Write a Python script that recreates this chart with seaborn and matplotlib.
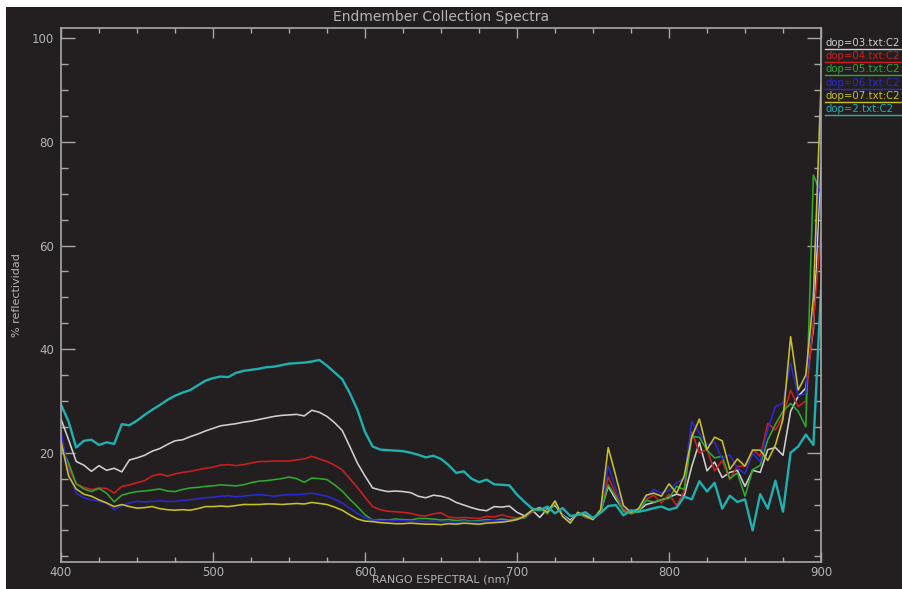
import matplotlib
matplotlib.use("Agg")
import matplotlib.pyplot as plt
from matplotlib.patches import Rectangle
from matplotlib.lines import Line2D
from matplotlib.ticker import MultipleLocator, FixedLocator
import seaborn as sns
import pandas as pd

wavelength = [400, 405, 410, 415, 420, 425, 430, 435, 440, 445,
              450, 455, 460, 465, 470, 475, 480, 485, 490, 495,
              500, 505, 510, 515, 520, 525, 530, 535, 540, 545,
              550, 555, 560, 565, 570, 575, 580, 585, 590, 595,
              600, 605, 610, 615, 620, 625, 630, 635, 640, 645,
              650, 655, 660, 665, 670, 675, 680, 685, 690, 695,
              700, 705, 710, 715, 720, 725, 730, 735, 740, 745,
              750, 755, 760, 765, 770, 775, 780, 785, 790, 795,
              800, 805, 810, 815, 820, 825, 830, 835, 840, 845,
              850, 855, 860, 865, 870, 875, 880, 885, 890, 895,
              900]

dop03 = [26.5, 22.5, 18.3, 17.6, 16.4, 17.5, 16.6, 17.0, 16.3, 18.6,
         19.0, 19.5, 20.3, 20.8, 21.6, 22.3, 22.5, 23.1, 23.6, 24.2,
         24.7, 25.2, 25.4, 25.6, 25.9, 26.1, 26.4, 26.7, 27.0, 27.2,
         27.3, 27.4, 27.1, 28.2, 27.8, 27.0, 25.8, 24.3, 21.2, 18.0,
         15.5, 13.2, 12.8, 12.5, 12.6, 12.5, 12.3, 11.6, 11.3, 11.8,
         11.6, 11.2, 10.4, 9.9, 9.4, 9.0, 8.8, 9.6, 9.5, 9.7,
         8.5, 7.8, 8.9, 7.5, 9.2, 9.8, 8.0, 7.0, 8.2, 7.9,
         7.3, 8.6, 13.5, 11.0, 9.0, 8.3, 8.8, 10.0, 10.4, 10.9,
         11.4, 12.0, 11.6, 17.4, 22.0, 16.5, 18.2, 15.2, 16.2, 16.6,
         13.5, 16.6, 16.2, 20.6, 21.0, 19.5, 28.0, 30.9, 32.5, 44.0,
         76.0]

dop04 = [23.0, 17.0, 14.0, 13.3, 12.9, 13.2, 13.1, 12.2, 13.5, 13.8,
         14.2, 14.6, 15.5, 15.9, 15.5, 15.9, 16.2, 16.4, 16.7, 17.0,
         17.2, 17.6, 17.7, 17.5, 17.7, 18.0, 18.3, 18.3, 18.4, 18.4,
         18.4, 18.6, 18.8, 19.3, 18.8, 18.3, 17.6, 16.7, 15.0, 13.3,
         11.4, 9.6, 9.0, 8.7, 8.6, 8.5, 8.3, 7.9, 7.8, 8.2,
         8.4, 7.6, 7.4, 7.5, 7.4, 7.3, 7.7, 7.6, 8.0, 7.6,
         7.4, 7.7, 8.5, 9.3, 8.8, 10.5, 7.8, 6.6, 8.3, 7.5,
         7.2, 8.7, 15.3, 12.0, 9.0, 8.4, 9.0, 11.0, 11.8, 10.3,
         12.0, 9.8, 12.5, 24.0, 20.0, 20.6, 16.5, 18.5, 14.8, 17.4,
         17.4, 20.6, 19.3, 25.7, 24.4, 27.0, 32.1, 28.9, 30.0, 45.0,
         63.0]

dop05 = [21.2, 18.0, 14.0, 13.0, 12.5, 13.1, 12.2, 10.5, 11.8, 12.2,
         12.5, 12.6, 12.8, 13.0, 12.6, 12.5, 12.9, 13.2, 13.3, 13.5,
         13.6, 13.8, 13.7, 13.6, 13.8, 14.2, 14.5, 14.6, 14.8, 15.0,
         15.3, 15.0, 14.3, 15.1, 15.0, 14.8, 13.8, 12.6, 11.0, 9.6,
         8.0, 7.0, 7.1, 7.0, 7.2, 7.1, 7.0, 7.3, 7.3, 7.2,
         7.0, 7.1, 6.9, 7.0, 6.8, 6.9, 7.1, 6.9, 7.2, 7.0,
         7.2, 7.4, 8.7, 9.3, 8.2, 10.2, 8.0, 6.7, 8.2, 7.6,
         7.1, 8.5, 13.8, 11.5, 8.7, 8.2, 8.7, 10.8, 10.5, 10.9,
         11.2, 13.5, 12.9, 23.1, 23.0, 20.5, 19.0, 19.3, 15.0, 16.1,
         11.6, 16.7, 17.6, 22.5, 25.5, 28.0, 29.5, 28.0, 25.0, 73.6,
         70.0]

dop06 = [24.1, 16.0, 12.2, 11.3, 10.9, 10.6, 10.3, 9.0, 9.8, 10.3,
         10.6, 10.5, 10.6, 10.7, 10.6, 10.6, 10.8, 10.9, 11.1, 11.3,
         11.4, 11.6, 11.7, 11.5, 11.6, 11.8, 11.9, 11.8, 11.6, 11.8,
         11.9, 11.9, 12.0, 12.2, 11.9, 11.6, 11.0, 10.3, 9.3, 8.3,
         7.4, 7.0, 6.9, 6.9, 6.9, 6.9, 6.8, 6.8, 6.7, 6.8,
         6.7, 6.7, 6.6, 6.8, 6.7, 6.7, 6.8, 6.9, 6.8, 6.9,
         7.0, 7.6, 8.8, 9.5, 8.6, 10.6, 7.9, 6.5, 8.4, 7.7,
         7.2, 8.8, 17.5, 13.0, 9.5, 8.6, 9.1, 11.4, 12.9, 12.2,
         12.7, 14.2, 15.0, 26.0, 23.8, 21.5, 22.0, 18.8, 19.6, 17.0,
         16.0, 19.9, 18.3, 24.5, 28.9, 29.6, 37.3, 30.9, 31.5, 50.8,
         80.0]

dop07 = [22.2, 15.5, 13.0, 12.0, 11.6, 10.9, 10.3, 9.6, 10.0, 9.6,
         9.3, 9.4, 9.6, 9.2, 9.0, 8.9, 9.0, 8.9, 9.2, 9.6,
         9.6, 9.7, 9.6, 9.8, 10.0, 10.0, 10.0, 10.1, 10.1, 10.0,
         10.1, 10.2, 10.1, 10.4, 10.2, 10.0, 9.5, 8.9, 8.0, 7.2,
         6.8, 6.7, 6.5, 6.4, 6.3, 6.3, 6.4, 6.3, 6.2, 6.2,
         6.1, 6.3, 6.2, 6.4, 6.3, 6.2, 6.4, 6.5, 6.6, 6.8,
         7.1, 7.7, 8.9, 9.4, 8.5, 10.7, 7.7, 6.4, 8.5, 7.8,
         7.1, 9.0, 21.0, 15.5, 9.8, 8.5, 9.2, 11.8, 12.2, 11.6,
         14.0, 12.2, 15.5, 23.1, 26.5, 20.6, 23.0, 22.3, 16.8, 18.8,
         17.4, 20.5, 20.5, 18.5, 21.5, 26.5, 42.4, 32.1, 35.0, 50.1,
         91.0]

dop2 = [29.3, 26.0, 21.0, 22.3, 22.5, 21.5, 22.0, 21.7, 25.5, 25.3,
        26.2, 27.3, 28.3, 29.2, 30.2, 31.0, 31.6, 32.1, 33.0, 33.9,
        34.4, 34.7, 34.6, 35.4, 35.8, 36.0, 36.2, 36.5, 36.6, 36.9,
        37.2, 37.3, 37.4, 37.6, 37.9, 36.8, 35.5, 34.2, 31.5, 28.3,
        24.0, 21.2, 20.6, 20.5, 20.4, 20.3, 20.0, 19.6, 19.1, 19.4,
        18.8, 17.6, 16.1, 16.4, 15.0, 14.3, 14.8, 13.9, 13.8, 13.7,
        11.9, 10.5, 9.2, 8.9, 9.6, 8.3, 9.3, 7.8, 8.0, 8.5,
        7.4, 8.4, 9.7, 9.9, 7.9, 8.9, 8.6, 8.9, 9.3, 9.6,
        9.0, 9.4, 11.5, 11.0, 14.5, 12.5, 14.2, 9.2, 11.7, 10.5,
        11.0, 5.0, 12.0, 9.2, 14.6, 8.6, 20.0, 21.2, 23.5, 21.5,
        51.4]

labels = ["dop=03.txt:C2", "dop=04.txt:C2", "dop=05.txt:C2",
          "dop=06.txt:C2", "dop=07.txt:C2", "dop=2.txt:C2"]
series = [dop03, dop04, dop05, dop06, dop07, dop2]
colors = ["#cfcfcf", "#cc2020", "#2eaa2e", "#2a2ad2", "#c8c028", "#20b0b0"]

title = "Endmember Collection Spectra"
xlabel = "RANGO ESPECTRAL (nm)"
ylabel = "% reflectividad"
xticks = [400, 500, 600, 700, 800, 900]
yticks = [20, 40, 60, 80, 100]

frames = []
for lab, vals in zip(labels, series):
    frames.append(pd.DataFrame({"wl": wavelength, "refl": vals, "name": lab}))
df = pd.concat(frames, ignore_index=True)

W, H = 902, 589
BG = "#231f20"
TXT = "#b4b4b4"
AX = "#a8a8a8"

fig = plt.figure(figsize=(W / 100, H / 100), dpi=100, facecolor="white")
fig.patches.append(Rectangle((6 / W, 0), 1, 1 - 7 / H, transform=fig.transFigure,
                             facecolor=BG, edgecolor="none", zorder=-10))

ax = fig.add_axes([61 / W, (H - 562) / H, 760 / W, 534 / H])
ax.set_facecolor(BG)

for lab, col in zip(labels, colors):
    sub = df[df["name"] == lab]
    lw = 1.7 if lab == "dop=2.txt:C2" else 1.15
    sns.lineplot(data=sub, x="wl", y="refl", color=col, lw=lw, ax=ax,
                 sort=False, estimator=None, legend=False)

ax.set_xlim(400, 900)
ax.set_ylim(-1.1, 102)
ax.xaxis.set_major_locator(FixedLocator(xticks))
ax.xaxis.set_minor_locator(MultipleLocator(25))
ax.yaxis.set_major_locator(FixedLocator(yticks))
ax.yaxis.set_minor_locator(MultipleLocator(5))
ax.set_xticklabels([str(t) for t in xticks])
ax.set_yticklabels([str(t) for t in yticks])

for sp in ax.spines.values():
    sp.set_color(AX)
    sp.set_linewidth(1.2)
    sp.set_visible(True)

ax.tick_params(axis="x", which="major", direction="in", length=7.2, width=1.0,
               color=AX, labelcolor=TXT, labelsize=8.5, pad=3, top=True, bottom=True)
ax.tick_params(axis="x", which="minor", direction="in", length=3.6, width=1.0,
               color=AX, top=True, bottom=True)
ax.tick_params(axis="y", which="major", direction="in", length=10, width=1.0,
               color=AX, labelcolor=TXT, labelsize=8.5, pad=5, left=True, right=True)
ax.tick_params(axis="y", which="minor", direction="in", length=5, width=1.0,
               color=AX, left=True, right=True)
ax.grid(False)

ax.set_xlabel(xlabel, color=TXT, fontsize=8, va="center")
ax.xaxis.set_label_coords(0.5, -0.032)
ax.set_ylabel(ylabel, color=TXT, fontsize=8, va="center")
ax.yaxis.set_label_coords(-0.058, 0.5)
ax.text(0.5, (562 - 17) / 534, title, transform=ax.transAxes, ha="center",
        va="center", color=TXT, fontsize=10)

# legend (text + underline, outside the right axis)
for i, (lab, col) in enumerate(zip(labels, colors)):
    ypx = 43 + i * 13.2
    fig.text(825 / W, 1 - ypx / H, lab, color=col, fontsize=7.3,
             ha="left", va="center")
    yl = 1 - (ypx + 6) / H
    fig.add_artist(Line2D([825 / W, 1.0], [yl, yl], transform=fig.transFigure,
                          color=col, lw=1.0))

fig.savefig("out.png", dpi=100, facecolor="white")
